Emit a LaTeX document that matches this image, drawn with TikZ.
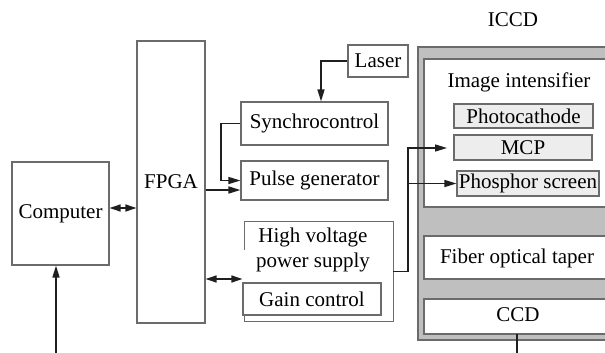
\documentclass[tikz,border=0pt]{standalone}
\usepackage{fontspec}
\setmainfont{Liberation Serif}
\usepackage{tikz}
\usetikzlibrary{arrows.meta}
\definecolor{edgegray}{gray}{0.42}
\definecolor{iccdgray}{gray}{0.75}
\definecolor{partgray}{gray}{0.93}
\definecolor{wiregray}{gray}{0.12}

\begin{document}
\begin{tikzpicture}[x=1pt,y=-1pt,
    font=\fontsize{21}{25}\selectfont,
    blk/.style={draw=edgegray,line width=1.1pt,fill=white,inner sep=0pt},
    part/.style={blk,fill=partgray},
    wire/.style={draw=wiregray,line width=1.4pt},
    sig/.style={wire,-{Triangle[length=12pt,width=7pt]}},
    bisig/.style={wire,{Triangle[length=11pt,width=7pt]}-{Triangle[length=11pt,width=7pt]}}]
  \useasboundingbox (0,0) rectangle (605,353);
  % ICCD housing, cut off at the right border
  \begin{scope}
    \clip (0,0) rectangle (605,353);
    \draw[blk,fill=iccdgray] (418,47) rectangle (615,340);
    \draw[blk] (424,59) rectangle (615,207);
    \draw[blk] (424,236) rectangle (615,279);
    \draw[blk] (424,299) rectangle (615,334);
  \end{scope}
  \node (iccd) at (513,20) {ICCD};
  \node (intens) at (519,82) {Image intensifier};
  \node (taper) at (517,258) {Fiber optical taper};
  \node (ccd) at (518,315) {CCD};
  \node[part,minimum width=139pt,minimum height=24pt] (photo) at (523.5,116) {Photocathode};
  \node[part,minimum width=138pt,minimum height=25pt] (mcp) at (523,147.5) {MCP};
  \node[part,minimum width=142pt,minimum height=25pt] (phos) at (528,183.5) {Phosphor screen};

  \node[blk,minimum width=97pt,minimum height=103pt] (computer) at (60.5,213.5) {Computer};
  \node[blk,minimum width=68pt,minimum height=282pt] (fpga) at (171,182) {FPGA};
  \node[blk,minimum width=60pt,minimum height=32pt] (laser) at (378,61) {Laser};
  \node[blk,minimum width=147pt,minimum height=43pt] (sync) at (314.5,123.5) {Synchrocontrol};
  \node[blk,minimum width=147pt,minimum height=39pt] (pulse) at (314.5,180.5) {Pulse generator};

  % high voltage supply, its left edge is broken
  \node[inner sep=0pt,minimum width=148pt,minimum height=99pt] (hv) at (319,271.5) {};
  \draw[draw=edgegray,line width=1.1pt] ([yshift=-28pt]hv.north west) -- (hv.north west)
    -- (hv.north east) -- (hv.south east) -- (hv.south west) -- ([yshift=8pt]hv.south west);
  \node[align=center] (hvtext) at (313,250) {High voltage\\power supply};
  \node[blk,minimum width=138pt,minimum height=32pt] (gain) at (312,299) {Gain control};

  \coordinate (cin) at (56,353);
  \coordinate (ccdout) at (517,353);
  \coordinate (split) at (408,148);
  \coordinate (mcpin) at (447,148);

  \draw[sig] (cin) -- (cin |- computer.south);
  \draw[bisig] (computer.east |- 0,208) -- (fpga.west |- 0,208);
  \draw[sig] (fpga.east |- 0,190) -- (pulse.west |- 0,190);
  \draw[sig] (sync.west) -- (221,123.5) |- (pulse.west);
  \draw[sig] (laser.west) -| (sync.north -| 321,0);
  \draw[bisig] (fpga.east |- 0,279) -- (gain.west |- 0,279);
  \draw[sig] (hv.east) -| (split) -- (mcpin);
  \draw[sig] (split |- phos.west) -- (phos.west);
  \draw[wire] (ccdout) -- (ccdout |- 0,334);
\end{tikzpicture}
\end{document}
